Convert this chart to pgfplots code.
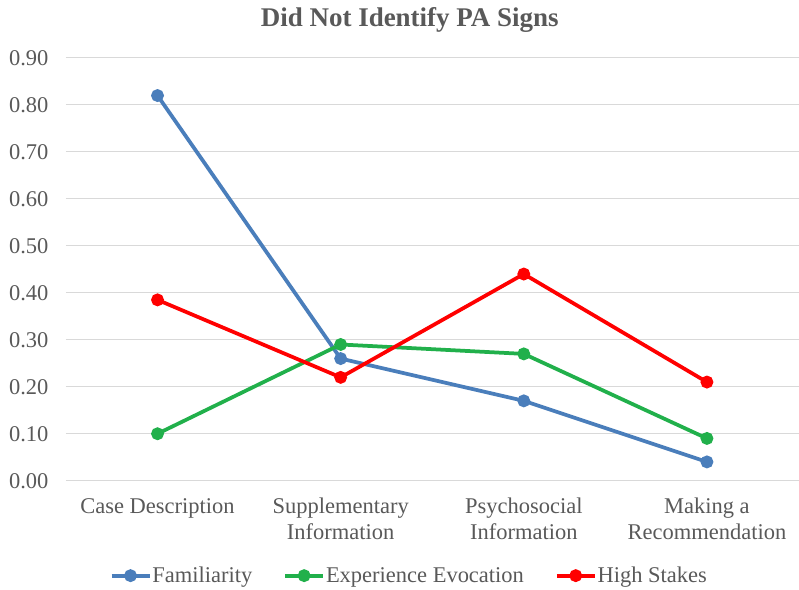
\documentclass[border=0pt]{standalone}
\usepackage{pgfplots}
\pgfplotsset{compat=1.18}
\usepackage{fontspec}
\setmainfont{Liberation Serif}
\definecolor{famblue}{HTML}{4A7EBB}
\definecolor{expgreen}{HTML}{21B04B}
\definecolor{stakered}{HTML}{FF0000}
\definecolor{txtgray}{HTML}{595959}
\definecolor{gridgray}{HTML}{D9D9D9}

\begin{document}
\begin{tikzpicture}
  % canvas the size of the reference
  \path (0pt,0pt) rectangle (799pt,590pt);
  \node[font=\fontsize{27}{32}\selectfont\bfseries, text=txtgray] at (410pt,570pt) {Did Not Identify PA Signs};
  \begin{axis}[
      at={(66pt,109pt)}, anchor=south west,
      scale only axis,
      width=733pt, height=423pt,
      xmin=-0.5, xmax=3.5,
      ymin=0, ymax=0.9,
      xtick={0,1,2,3},
      xticklabels={Case Description, Supplementary\\Information, Psychosocial\\Information, Making a\\Recommendation},
      xticklabel style={align=center, font=\fontsize{22.5}{26}\selectfont, text=txtgray, yshift=-14pt},
      ytick={0,0.1,...,0.9},
      yticklabel style={font=\fontsize{22.5}{26}\selectfont, text=txtgray, xshift=-14pt},
      /pgf/number format/.cd, fixed, zerofill, precision=2, assume math mode=true,
      /pgfplots/.cd,
      ymajorgrids=true,
      grid style={gridgray, line width=1pt},
      axis lines*=left,
      y axis line style={draw=none},
      x axis line style={gridgray, line width=1pt, -},
      major tick length=0pt,
      clip=false,
      legend columns=3,
      legend style={at={(0.468,-0.2246)}, anchor=center, draw=none, fill=none,
        font=\fontsize{22.5}{26}\selectfont, text=txtgray,
        nodes={inner xsep=1pt},
        /tikz/every even column/.append style={column sep=30pt}},
      legend image code/.code={
        \draw[mark repeat=2, mark phase=2] plot coordinates {(0pt,0pt) (19pt,0pt) (38pt,0pt)};
      },
      every axis plot/.append style={line width=3.75pt, mark=*, mark size=4.5pt},
    ]
    \addplot[color=famblue] coordinates {(0,0.82) (1,0.26) (2,0.17) (3,0.04)};
    \addplot[color=expgreen] coordinates {(0,0.10) (1,0.29) (2,0.27) (3,0.09)};
    \addplot[color=stakered] coordinates {(0,0.385) (1,0.22) (2,0.44) (3,0.21)};
    \legend{Familiarity, Experience Evocation, High Stakes}
  \end{axis}
\end{tikzpicture}
\end{document}
